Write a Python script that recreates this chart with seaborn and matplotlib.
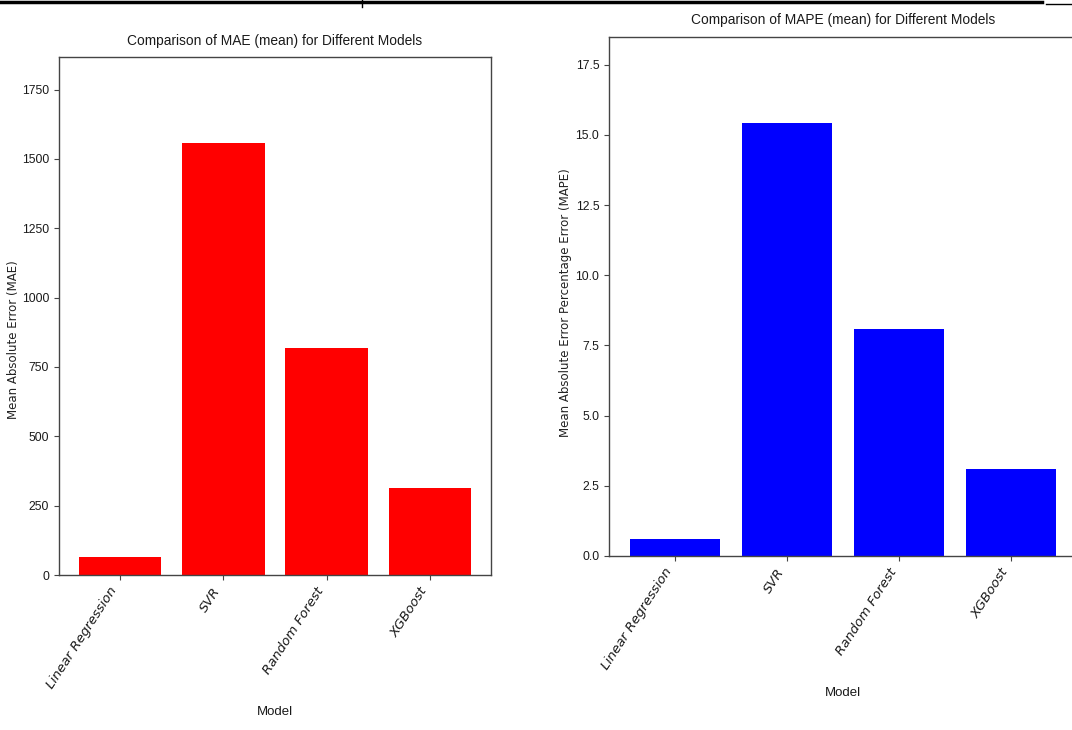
import numpy as np
import pandas as pd
import seaborn as sns
import matplotlib.pyplot as plt
from matplotlib.lines import Line2D

# values
models = ["Linear Regression", "SVR", "Random Forest", "XGBoost"]
mae_mean = [65, 1556, 819, 313]
mape_mean = [0.60, 15.41, 8.09, 3.09]

# the screenshot is squeezed sideways, so a narrower face for horizontal text
narrow = ["Liberation Sans", "DejaVu Sans"]

fig = plt.figure(figsize=(10.72, 7.30), dpi=100)

# left and right panels (right one runs off the edge like the screenshot)
ax1 = fig.add_axes([0.0550, 0.2123, 0.4030, 0.7096])
ax2 = fig.add_axes([0.5681, 0.2384, 0.4366, 0.7110])


def bar_panel(ax, vals, color, title, ylabel, step, yfmt):
    df = pd.DataFrame({"Model": models, "val": vals})
    sns.barplot(data=df, x="Model", y="val", color=color, saturation=1,
                linewidth=0, width=0.8, ax=ax)
    ax.set_xlim(-0.59, 3.59)
    ax.set_ylim(0, max(vals) * 1.2)
    ax.yaxis.set_major_locator(plt.MultipleLocator(step))
    ax.yaxis.set_major_formatter(plt.FuncFormatter(yfmt))

    ax.set_title(title, fontsize=9.9, family=narrow, color="#1a1a1a", pad=9)
    ax.set_xlabel("Model", fontsize=9.5, family=narrow, color="#1a1a1a")
    ax.set_ylabel(ylabel, fontsize=8.5, family="DejaVu Sans", color="#222222")

    ax.set_xticks(range(len(models)))
    ax.set_xticklabels(models, rotation=57, ha="right", fontsize=9.5,
                       style="italic", color="#222222")
    ax.tick_params(axis="y", labelsize=8.8)
    for s in ax.spines.values():
        s.set_color("#444444")
        s.set_linewidth(1.0)
    ax.tick_params(colors="#444444", length=3.5)
    ax.tick_params(labelcolor="#1a1a1a")


bar_panel(ax1, mae_mean, "red", "Comparison of MAE (mean) for Different Models",
          "Mean Absolute Error (MAE)", 250, lambda v, p: f"{v:.0f}")
bar_panel(ax2, mape_mean, "blue", "Comparison of MAPE (mean) for Different Models",
          "Mean Absolute Error Percentage Error (MAPE)", 2.5, lambda v, p: f"{v:.1f}")

for lab in ax1.get_yticklabels() + ax2.get_yticklabels():
    lab.set_family(narrow)

ax1.yaxis.set_label_coords(-0.091, 0.454)
ax2.yaxis.set_label_coords(-0.078, 0.489)
ax1.xaxis.set_label_coords(0.5, -0.253)
ax2.xaxis.set_label_coords(0.5, -0.252)

# screenshot border line along the top
fig.add_artist(Line2D([0, 0.972], [0.9975, 0.9975], color="black", lw=2.5,
                      transform=fig.transFigure))
fig.add_artist(Line2D([0.976, 1.0], [0.994, 0.994], color="black", lw=1.0,
                      transform=fig.transFigure))
fig.add_artist(Line2D([0.3375, 0.3375], [0.99, 1.0], color="black", lw=1.0,
                      transform=fig.transFigure))

fig.savefig("out.png", dpi=100)
